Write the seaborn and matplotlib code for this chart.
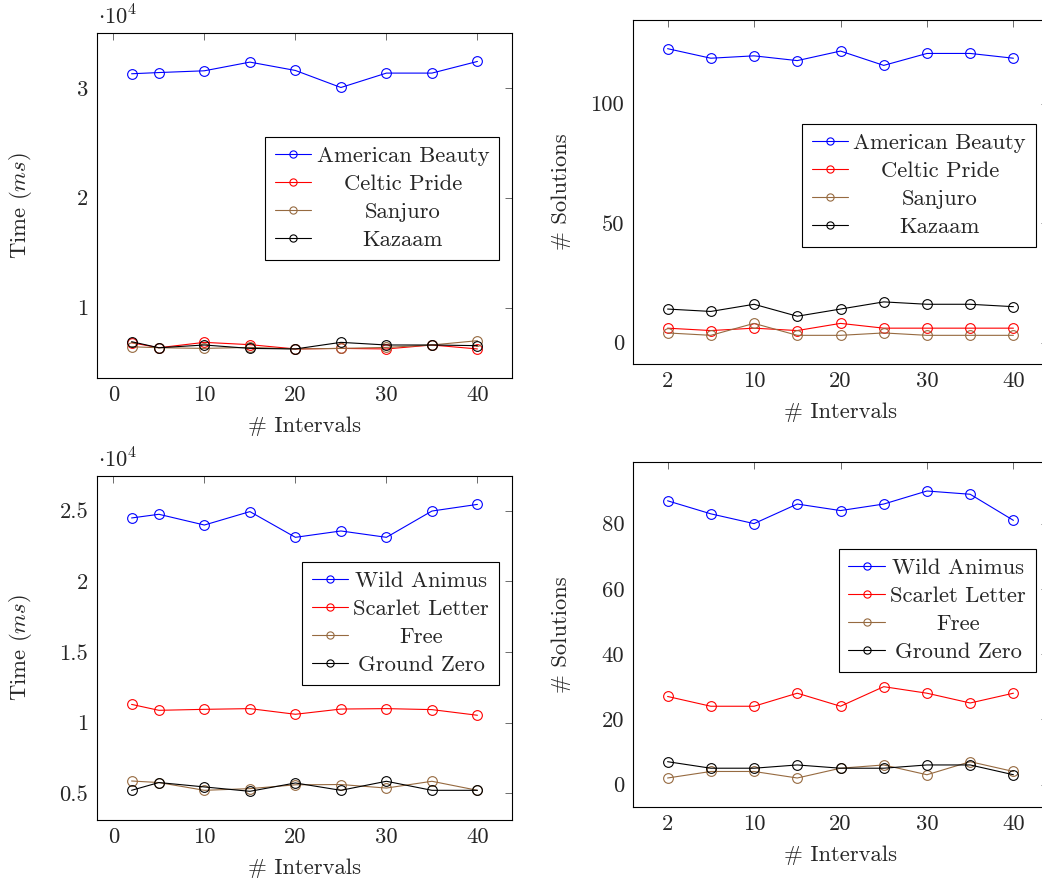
import matplotlib
matplotlib.use("Agg")
import matplotlib.pyplot as plt
import numpy as np
import pandas as pd
import seaborn as sns

# ---------------- data ----------------
intervals = [2, 5, 10, 15, 20, 25, 30, 35, 40]
right_tick_values = [2, 10, 20, 30, 40]

top_names = ["American Beauty", "Celtic Pride", "Sanjuro", "Kazaam"]
bottom_names = ["Wild Animus", "Scarlet Letter", "Free", "Ground Zero"]

# Top-left: time (ms)
american_beauty_time = [31280, 31390, 31550, 32340, 31580, 30030, 31340, 31340, 32400]
celtic_pride_time = [6810, 6350, 6840, 6630, 6240, 6290, 6240, 6600, 6240]
sanjuro_time = [6440, 6350, 6290, 6380, 6240, 6290, 6380, 6600, 6990]
kazaam_time = [6900, 6350, 6600, 6290, 6240, 6840, 6600, 6600, 6540]

# Top-right: # solutions
american_beauty_sol = [123, 119, 120, 118, 122, 116, 121, 121, 119]
celtic_pride_sol = [6, 5, 6, 5, 8, 6, 6, 6, 6]
sanjuro_sol = [4, 3, 8, 3, 3, 4, 3, 3, 3]
kazaam_sol = [14, 13, 16, 11, 14, 17, 16, 16, 15]

# Bottom-left: time (ms)
wild_animus_time = [24480, 24740, 23980, 24930, 23110, 23560, 23110, 24970, 25440]
scarlet_letter_time = [11290, 10870, 10940, 10990, 10590, 10960, 10990, 10920, 10520]
free_time = [5870, 5760, 5210, 5330, 5600, 5620, 5370, 5850, 5210]
ground_zero_time = [5210, 5760, 5450, 5140, 5730, 5210, 5850, 5210, 5210]

# Bottom-right: # solutions
wild_animus_sol = [87, 83, 80, 86, 84, 86, 90, 89, 81]
scarlet_letter_sol = [27, 24, 24, 28, 24, 30, 28, 25, 28]
free_sol = [2, 4, 4, 2, 5, 6, 3, 7, 4]
ground_zero_sol = [7, 5, 5, 6, 5, 5, 6, 6, 3]

tl_yticks = [10000, 20000, 30000]
tl_yticklabels = ["1", "2", "3"]
bl_yticks = [5000, 10000, 15000, 20000, 25000]
bl_yticklabels = ["0.5", "1", "1.5", "2", "2.5"]
tr_yticks = [0, 50, 100]
br_yticks = [0, 20, 40, 60, 80]
left_xticks = [0, 10, 20, 30, 40]

colors = ["#0000ff", "#ff0000", "#966a40", "#000000"]

# ---------------- style ----------------
sns.set_style("white")
FS = 16.3
plt.rcParams.update({
    "font.family": "serif",
    "font.serif": ["cmr10"],
    "mathtext.fontset": "cm",
    "axes.formatter.use_mathtext": True,
    "axes.unicode_minus": False,
    "font.size": FS,
    "axes.edgecolor": "black",
    "axes.linewidth": 0.8,
})

W, H = 1042, 889
fig = plt.figure(figsize=(W / 100, H / 100), dpi=100)


def px_axes(left, top, right, bottom):
    return fig.add_axes([left / W, 1 - bottom / H, (right - left) / W, (bottom - top) / H])


ax_tl = px_axes(97, 32.7, 512, 377.7)
ax_tr = px_axes(633, 20, 1048, 364)
ax_bl = px_axes(97, 475.7, 512, 820)
ax_br = px_axes(633, 462.3, 1048, 806.7)


def draw(ax, names, series, xpos):
    for name, vals, c in zip(names, series, colors):
        df = pd.DataFrame({"x": xpos, "y": vals})
        sns.lineplot(data=df, x="x", y="y", ax=ax, color=c, lw=0.8,
                     marker="o", ms=7.0, mfc="none", mec=c, mew=0.8,
                     label=name, errorbar=None, legend=False)
    allv = np.concatenate([np.asarray(v, float) for v in series])
    lo, hi = allv.min(), allv.max()
    r = hi - lo
    ax.set_ylim(lo - 0.1 * r, hi + 0.1 * r)
    xr = max(xpos) - min(xpos)
    ax.set_xlim(min(xpos) - 0.1 * xr, max(xpos) + 0.1 * xr)
    ax.tick_params(direction="in", top=True, right=True, length=5, width=0.6,
                   color="#555555", labelsize=FS)
    ax.tick_params(axis="x", pad=5.7)
    ax.tick_params(axis="y", pad=6.3)
    ax.set_xlabel("# Intervals", fontsize=FS, labelpad=8.0)
    for s in ax.spines.values():
        s.set_linewidth(0.8)
        s.set_color("black")


right_pos = list(range(len(intervals)))

draw(ax_tl, top_names, [american_beauty_time, celtic_pride_time, sanjuro_time, kazaam_time], intervals)
draw(ax_tr, top_names, [american_beauty_sol, celtic_pride_sol, sanjuro_sol, kazaam_sol], right_pos)
draw(ax_bl, bottom_names, [wild_animus_time, scarlet_letter_time, free_time, ground_zero_time], intervals)
draw(ax_br, bottom_names, [wild_animus_sol, scarlet_letter_sol, free_sol, ground_zero_sol], right_pos)

for ax in (ax_tl, ax_bl):
    ax.set_xticks(left_xticks)
    ax.set_xticklabels([str(v) for v in left_xticks])
    ax.set_ylabel(r"Time ($ms$)", fontsize=FS)
    ax.yaxis.set_label_coords(-0.152, 0.5)
    ax.annotate(r"$\cdot 10^{4}$", xy=(0, 1), xycoords="axes fraction",
                xytext=(0.6, 5.6), textcoords="offset points",
                ha="left", va="baseline", fontsize=FS)

ax_tl.set_yticks(tl_yticks)
ax_tl.set_yticklabels(tl_yticklabels)
ax_bl.set_yticks(bl_yticks)
ax_bl.set_yticklabels(bl_yticklabels)

for ax, yt in ((ax_tr, tr_yticks), (ax_br, br_yticks)):
    idx = [intervals.index(v) for v in right_tick_values]
    ax.set_xticks(idx)
    ax.set_xticklabels([str(v) for v in right_tick_values])
    ax.set_yticks(yt)
    ax.set_yticklabels([str(v) for v in yt])
    ax.set_ylabel("# Solutions", fontsize=FS)
    ax.yaxis.set_label_coords(-0.149, 0.5)

legends = []
for ax, anchor in ((ax_tl, (0.968, 0.6986)), (ax_tr, (0.970, 0.6985)),
                   (ax_bl, (0.968, 0.750)), (ax_br, (0.970, 0.749))):
    leg = ax.legend(loc="upper right", bbox_to_anchor=anchor, fontsize=FS,
                    frameon=True, fancybox=False, framealpha=1, edgecolor="black",
                    borderpad=0.42, labelspacing=0.36, handlelength=1.6,
                    handletextpad=0.25, borderaxespad=0)
    leg.get_frame().set_linewidth(0.8)
    for h in leg.legend_handles:
        h.set_markersize(5.2)
    legends.append(leg)

# center the legend texts within their column (pgfplots style)
fig.canvas.draw()
rend = fig.canvas.get_renderer()
for leg in legends:
    texts = leg.get_texts()
    widths = [t.get_window_extent(rend).width for t in texts]
    m = max(widths)
    for t, w in zip(texts, widths):
        t.set_position(((m - w) / 2.0, 0))

fig.savefig("out.png", dpi=100, facecolor="white")
